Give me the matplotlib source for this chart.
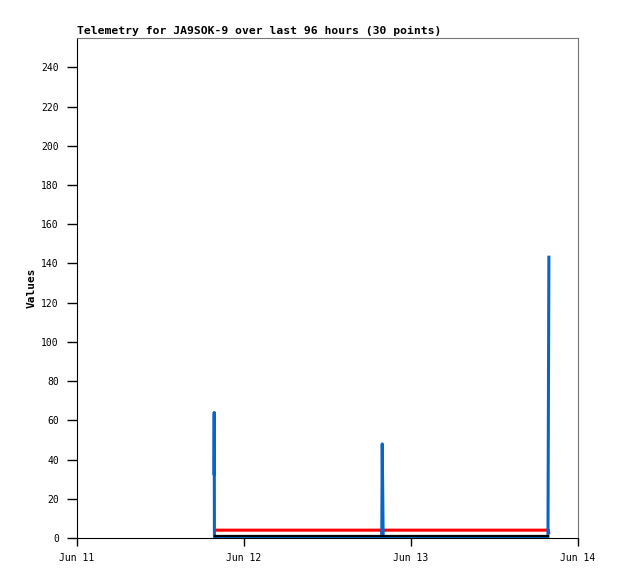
import matplotlib
matplotlib.use('Agg')
import matplotlib.pyplot as plt
import pandas as pd

# Telemetry samples (10 packets x 3 channels = 30 points)
times = pd.to_datetime([
    "2024-06-11 19:41", "2024-06-11 19:43", "2024-06-11 19:45",
    "2024-06-12 19:48", "2024-06-12 19:52", "2024-06-12 19:56", "2024-06-12 20:00",
    "2024-06-13 19:41", "2024-06-13 19:45", "2024-06-13 19:49",
])
ch_blue = [32, 64, 0, 0, 48, 24, 0, 0, 72, 144]
ch_red = [4, 4, 4, 4, 2, 4, 4, 4, 4, 2]
ch_black = [1, 1, 1, 1, 1, 1, 1, 1, 1, 1]

x_ticks = pd.to_datetime(["2024-06-11", "2024-06-12", "2024-06-13", "2024-06-14"])
x_labels = ["Jun 11", "Jun 12", "Jun 13", "Jun 14"]
y_ticks = list(range(0, 241, 20))

plt.rcParams['font.family'] = ['DejaVu Sans Mono']

fig = plt.figure(figsize=(6.18, 5.79), dpi=100)
ax = fig.add_axes([77 / 618, 41 / 579, 501 / 618, 500 / 579])

ax.plot(times, ch_red, color='#ff0000', lw=2.2, zorder=2, solid_capstyle='butt')
ax.plot(times, ch_blue, color='#0a64c8', lw=2.2, zorder=3, solid_capstyle='butt')
ax.plot(times, ch_black, color='black', lw=1.6, zorder=4, solid_capstyle='butt')

ax.set_xlim(x_ticks[0], x_ticks[-1])
ax.set_ylim(0, 255)
ax.set_xticks(x_ticks)
ax.set_xticklabels(x_labels, fontsize=7)
ax.set_yticks(y_ticks)
ax.set_yticklabels([str(v) for v in y_ticks], fontsize=7)
ax.tick_params(axis='y', direction='out', length=7, width=1, color='black', pad=6)
ax.tick_params(axis='x', direction='out', length=6, width=1, color='black', pad=5)

for side in ['top', 'right']:
    ax.spines[side].set_color('#777777')
for side in ['left', 'bottom']:
    ax.spines[side].set_color('black')

ax.set_ylabel('Values', fontsize=8, fontweight='bold', labelpad=3)
fig.text(77 / 618, 1 - 31 / 579, 'Telemetry for JA9SOK-9 over last 96 hours (30 points)',
         fontsize=8.2, fontweight='bold', ha='left', va='center')

fig.savefig('out.png', dpi=100)
